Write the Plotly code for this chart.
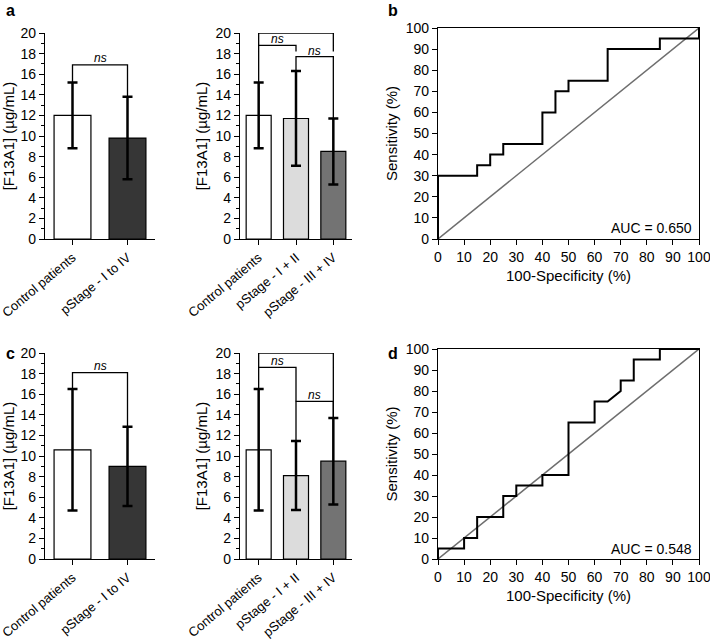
import plotly.graph_objects as go

# ---------------- data ----------------
cats2 = ["Control patients", "pStage - I to IV"]
cats3 = ["Control patients", "pStage - I + II", "pStage - III + IV"]

a2_mean = [12.0, 9.8]
a2_err = [3.2, 4.0]
a3_mean = [12.0, 11.7, 8.5]
a3_err = [3.2, 4.6, 3.2]

c2_mean = [10.6, 9.0]
c2_err = [5.9, 3.85]
c3_mean = [10.6, 8.1, 9.5]
c3_err = [5.9, 3.35, 4.2]

colors2 = ["#ffffff", "#363636"]
colors3 = ["#ffffff", "#dcdcdc", "#737373"]

# ROC curves (100-specificity, sensitivity)
b_fpr = [0, 0, 15, 15, 20, 20, 25, 25, 40, 40, 45, 45, 50, 50, 65, 65, 85, 85, 100, 100]
b_tpr = [0, 30, 30, 35, 35, 40, 40, 45, 45, 60, 60, 70, 70, 75, 75, 90, 90, 95, 95, 100]
d_fpr = [0, 0, 10, 10, 15, 15, 25, 25, 30, 30, 40, 40, 50, 50, 60, 60, 65, 70, 70, 75, 75, 85, 85, 100]
d_tpr = [0, 5, 5, 10, 10, 20, 20, 30, 30, 35, 35, 40, 40, 65, 65, 75, 75, 80, 85, 85, 95, 95, 100, 100]
auc_b = "AUC = 0.650"
auc_d = "AUC = 0.548"

# significance brackets: (x0, x1, y_bar, y_left_end, y_right_end, label, label_y)
sig_a2 = [(0, 1, 16.9, 15.2, 13.8, "ns", 17.6)]
sig_a3 = [(0, 2, 20.0, 18.8, 18.2, "**", 20.7),
          (0, 1, 18.8, 15.2, 18.2, "ns", 19.4),
          (1, 2, 17.7, 16.3, 11.7, "ns", 18.3)]
sig_c2 = [(0, 1, 18.1, 16.5, 12.8, "ns", 18.7)]
sig_c3 = [(0, 2, 20.0, 18.6, 13.7, "ns", 20.7),
          (0, 1, 18.6, 16.5, 15.3, "ns", 19.2),
          (1, 2, 15.3, 11.5, 13.7, "ns", 15.9)]

# ---------------- figure ----------------
W, H = 710, 640
FONT = "Liberation Sans, Arial, sans-serif"
fig = go.Figure()


def px_x(a, b):
    return [a / W, b / W]


def px_y(top, bottom):
    return [1 - bottom / H, 1 - top / H]


def bar_panel(idx, cats, means, errs, colors, xd, yd):
    xa = "x" if idx == 1 else f"x{idx}"
    ya = "y" if idx == 1 else f"y{idx}"
    xs = list(range(len(cats)))
    fig.add_trace(go.Bar(
        x=xs, y=means, xaxis=xa, yaxis=ya, width=0.67,
        marker=dict(color=colors, line=dict(color="black", width=1.2)),
        error_y=dict(type="data", array=errs, visible=True, color="black",
                     thickness=2.5, width=5),
        showlegend=False, hoverinfo="skip"))
    fig.layout[f"xaxis{'' if idx == 1 else idx}"] = dict(
        domain=px_x(*xd), anchor=ya, range=[-0.5, len(cats) - 0.5],
        tickvals=xs, ticktext=cats, tickangle=-40, ticks="outside",
        ticklen=5, tickwidth=1, tickcolor="black", showline=True,
        linecolor="black", linewidth=1.2, showgrid=False, zeroline=False,
        automargin=False, ticklabeloverflow="allow",
        tickfont=dict(size=13, color="black", family=FONT))
    fig.layout[f"yaxis{'' if idx == 1 else idx}"] = dict(
        domain=px_y(*yd), anchor=xa, range=[0, 20], dtick=2,
        ticks="outside", ticklen=5, tickwidth=1, tickcolor="black",
        minor=dict(dtick=1, ticks="outside", ticklen=3, tickcolor="black"),
        showline=True, linecolor="black", linewidth=1.2, showgrid=False,
        zeroline=False, automargin=False,
        tickfont=dict(size=14, color="black", family=FONT),
        title=dict(text="[F13A1] (µg/mL)", font=dict(size=15, color="black", family=FONT),
                   standoff=4))


def brackets(idx, sigs):
    xa = "x" if idx == 1 else f"x{idx}"
    ya = "y" if idx == 1 else f"y{idx}"
    for x0, x1, yb, yl, yr, lab, ly in sigs:
        fig.add_shape(type="path", xref=xa, yref=ya,
                      path=f"M {x0},{yl} L {x0},{yb} L {x1},{yb} L {x1},{yr}",
                      line=dict(color="black", width=1.3))
        italic = lab == "ns"
        fig.add_annotation(x=(x0 + x1) / 2, y=ly, xref=xa, yref=ya,
                           text=f"<i>{lab}</i>" if italic else lab,
                           showarrow=False, yanchor="middle",
                           font=dict(size=12 if italic else 15, color="black", family=FONT))


def roc_panel(idx, fpr, tpr, auc, xd, yd):
    xa = f"x{idx}"
    ya = f"y{idx}"
    fig.add_trace(go.Scatter(x=[0, 100], y=[0, 100], xaxis=xa, yaxis=ya,
                             mode="lines", line=dict(color="#6e6e6e", width=1.5),
                             showlegend=False, hoverinfo="skip"))
    fig.add_trace(go.Scatter(x=fpr, y=tpr, xaxis=xa, yaxis=ya, mode="lines",
                             line=dict(color="black", width=2),
                             showlegend=False, hoverinfo="skip"))
    fig.layout[f"xaxis{idx}"] = dict(
        domain=px_x(*xd), anchor=ya, range=[0, 100], dtick=10,
        ticks="outside", ticklen=5, tickcolor="black", showline=True,
        mirror=True, linecolor="black", linewidth=1.2, showgrid=False,
        zeroline=False, automargin=False, ticklabeloverflow="allow",
        tickfont=dict(size=14, color="black", family=FONT),
        title=dict(text="100-Specificity (%)", font=dict(size=15, color="black", family=FONT),
                   standoff=6))
    fig.layout[f"yaxis{idx}"] = dict(
        domain=px_y(*yd), anchor=xa, range=[0, 100], dtick=10,
        ticks="outside", ticklen=5, tickcolor="black", showline=True,
        mirror=True, linecolor="black", linewidth=1.2, showgrid=False,
        zeroline=False, automargin=False,
        tickfont=dict(size=14, color="black", family=FONT),
        title=dict(text="Sensitivity (%)", font=dict(size=15, color="black", family=FONT),
                   standoff=4))
    fig.add_annotation(x=98, y=5, xref=xa, yref=ya, text=auc, showarrow=False,
                       xanchor="right", yanchor="middle",
                       font=dict(size=14, color="black", family=FONT))


bar_panel(1, cats2, a2_mean, a2_err, colors2, (45, 155), (33, 239))
bar_panel(2, cats3, a3_mean, a3_err, colors3, (240, 352), (33, 239))
roc_panel(3, b_fpr, b_tpr, auc_b, (438, 699), (28, 239))
bar_panel(4, cats2, c2_mean, c2_err, colors2, (45, 155), (353, 559))
bar_panel(5, cats3, c3_mean, c3_err, colors3, (240, 352), (353, 559))
roc_panel(6, d_fpr, d_tpr, auc_d, (438, 699), (349, 559))

brackets(1, sig_a2)
brackets(2, sig_a3)
brackets(4, sig_c2)
brackets(5, sig_c3)

for lab, x, y in [("a", 4, 10), ("b", 386, 10), ("c", 4, 353), ("d", 386, 353)]:
    fig.add_annotation(x=x / W, y=1 - y / H, xref="paper", yref="paper",
                       text=f"<b>{lab}</b>", showarrow=False, xanchor="left", yanchor="middle",
                       font=dict(size=16, color="black", family=FONT))

fig.update_layout(width=W, height=H, margin=dict(l=0, r=0, t=0, b=0, autoexpand=False),
                  paper_bgcolor="white", plot_bgcolor="white",
                  font=dict(family=FONT, color="black"), bargap=0.33)

fig.write_html("out.html", config={"displayModeBar": False},
               post_script="document.body.style.margin='0';document.body.style.overflow='hidden';")
